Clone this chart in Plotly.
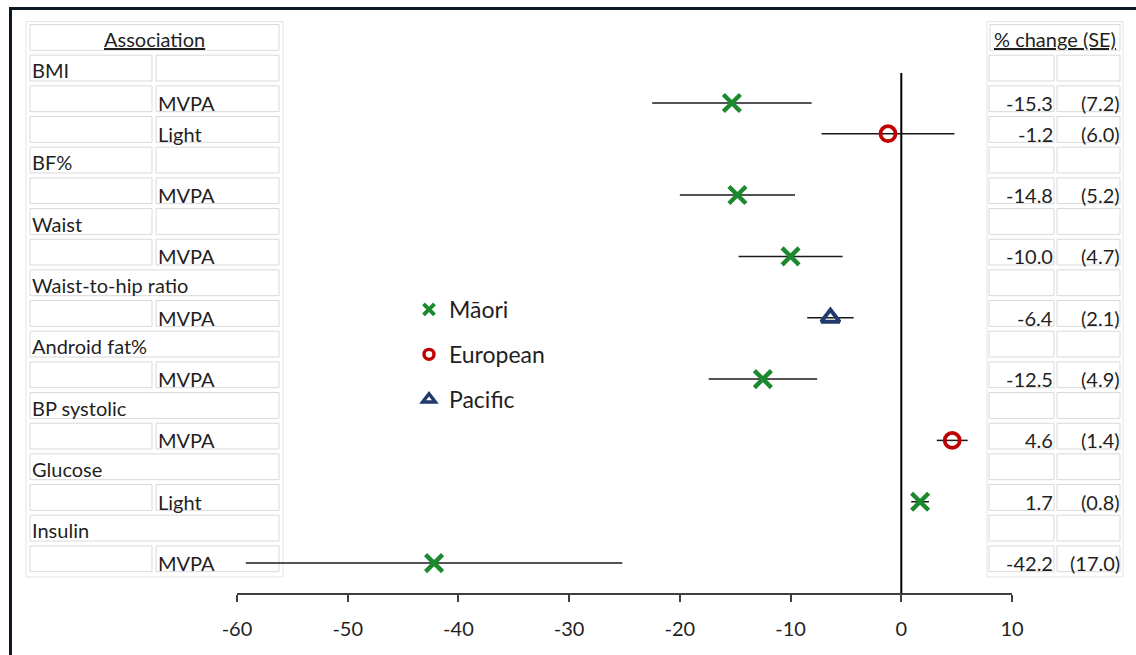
import plotly.graph_objects as go

# ---- data -------------------------------------------------------------
outcomes = ["BMI", "BF%", "Waist", "Waist-to-hip ratio", "Android fat%",
            "BP systolic", "Glucose", "Insulin"]
assoc_outcome = ["BMI", "BMI", "BF%", "Waist", "Waist-to-hip ratio",
                 "Android fat%", "BP systolic", "Glucose", "Insulin"]
assoc_activity = ["MVPA", "Light", "MVPA", "MVPA", "MVPA", "MVPA", "MVPA",
                  "Light", "MVPA"]
assoc_group = ["Māori", "European", "Māori", "Māori", "Pacific", "Māori",
               "European", "Māori", "Māori"]
pct_change = [-15.3, -1.2, -14.8, -10.0, -6.4, -12.5, 4.6, 1.7, -42.2]
std_err = [7.2, 6.0, 5.2, 4.7, 2.1, 4.9, 1.4, 0.8, 17.0]
x_ticks = [-60, -50, -40, -30, -20, -10, 0, 10]
x_tick_text = ["-60", "-50", "-40", "-30", "-20", "-10", "0", "10"]
groups = ["Māori", "European", "Pacific"]

# ---- table layout: one row per outcome heading, one per association ----
rows = []          # (kind, payload)
assoc_row = []     # row index of each association
for oc in outcomes:
    rows.append(("outcome", oc))
    for k, name in enumerate(assoc_outcome):
        if name == oc:
            assoc_row.append((k, len(rows) + 1))
            rows.append(("assoc", k))
assoc_row = [r for _, r in sorted(assoc_row)]
n_rows = len(rows) + 1  # +1 for the header row (row 0)

split_heading = {"BMI", "BF%", "Waist"}

FONT = "Lato, 'Open Sans', sans-serif"
TXT = "#1f1f1f"
CELL = "#d9d9d9"

W, H = 1136, 655
L, R, T, B = 237, 124, 0, 62
plot_w = W - L - R
plot_h = H - T - B
row_px = 30.67
top_row_px = 41.7
y_top = -top_row_px / row_px
y_bot = y_top + plot_h / row_px


def px(xp):
    return (xp - L) / plot_w


def py(yp):
    return (plot_h - yp) / plot_h


styles = {
    "Māori": dict(symbol="x-thin-open", color="#1b8a2e", size=17, lw=4.4,
                  leg_size=11, leg_lw=3.8),
    "European": dict(symbol="circle-open", color="#c00000", size=15, lw=3.8,
                     leg_size=10, leg_lw=3.4),
    "Pacific": dict(symbol="triangle-up-open", color="#1f3a6b", size=16,
                    lw=3.8, leg_size=11, leg_lw=3.4),
}

fig = go.Figure()

for g in groups:
    idx = [k for k, gg in enumerate(assoc_group) if gg == g]
    st = styles[g]
    fig.add_trace(go.Scatter(
        x=[pct_change[k] for k in idx],
        y=[assoc_row[k] for k in idx],
        mode="markers",
        marker=dict(symbol=st["symbol"], size=st["size"], color=st["color"],
                    line=dict(color=st["color"], width=st["lw"])),
        error_x=dict(type="data", array=[std_err[k] for k in idx],
                     symmetric=True, width=0, thickness=1.5,
                     color="#1a1a1a"),
        showlegend=False, name=g, cliponaxis=False,
    ))

# legend entries with smaller symbols
for g in groups:
    st = styles[g]
    fig.add_trace(go.Scatter(
        x=[None], y=[None], mode="markers", name=g, legendgroup=g,
        marker=dict(symbol=st["symbol"], size=st["leg_size"],
                    color=st["color"],
                    line=dict(color=st["color"], width=st["leg_lw"])),
    ))

shapes = []
annotations = []

# zero reference line
shapes.append(dict(type="line", xref="x", yref="y", x0=0, x1=0,
                   y0=1.02, y1=y_bot, line=dict(color="#000000", width=2),
                   layer="below"))

# outer frame of the figure
shapes.append(dict(type="line", xref="paper", yref="paper",
                   x0=px(9.5), x1=px(W + 5), y0=py(8.5), y1=py(8.5),
                   line=dict(color="#0e1726", width=3)))
shapes.append(dict(type="line", xref="paper", yref="paper",
                   x0=px(10.5), x1=px(10.5), y0=py(7), y1=py(H + 5),
                   line=dict(color="#0e1726", width=3)))


def cell(x0, x1, r):
    shapes.append(dict(type="rect", xref="paper", yref="y",
                       x0=px(x0), x1=px(x1), y0=r - 0.56, y1=r + 0.28,
                       line=dict(color=CELL, width=1), layer="below"))


def text(s, xp, r, anchor="left", size=20, dy=0):
    annotations.append(dict(text=s, xref="paper", yref="y", x=px(xp), y=r,
                            xanchor=anchor, yanchor="middle", showarrow=False,
                            yshift=dy, font=dict(family=FONT, size=size,
                                                 color=TXT)))


# table outlines
for x0, x1 in [(26, 283), (987, 1123)]:
    shapes.append(dict(type="rect", xref="paper", yref="y",
                       x0=px(x0), x1=px(x1), y0=-0.66, y1=n_rows - 1 + 0.45,
                       line=dict(color="#e4e4e4", width=1), layer="below"))

# headers
cell(30, 279, 0)
cell(990, 1120, 0)
text("<u>Association</u>", 154, 0, anchor="center", dy=3)
text("<u>% change (SE)</u>", 1055, 0, anchor="center", dy=3)

for i, (kind, payload) in enumerate(rows, start=1):
    # right table always has two cells
    cell(989, 1054, i)
    cell(1057, 1120, i)
    if kind == "outcome":
        if payload in split_heading:
            cell(30, 152, i)
            cell(156, 279, i)
        else:
            cell(30, 279, i)
        text(payload, 30, i, dy=2)
    else:
        k = payload
        cell(30, 152, i)
        cell(156, 279, i)
        text(assoc_activity[k], 156, i)
        text(f"{pct_change[k]:.1f}", 1055, i, anchor="right")
        text(f"({std_err[k]:.1f})", 1122, i, anchor="right")

fig.update_layout(
    width=W, height=H, autosize=False,
    margin=dict(l=L, r=R, t=T, b=B, pad=0),
    paper_bgcolor="white", plot_bgcolor="white",
    font=dict(family=FONT, size=20, color=TXT),
    shapes=shapes, annotations=annotations,
    showlegend=True,
    legend=dict(x=px(409), y=py(288), xanchor="left", yanchor="top",
                traceorder="grouped", tracegroupgap=12,
                bgcolor="rgba(0,0,0,0)", itemwidth=30,
                font=dict(family=FONT, size=23, color=TXT)),
    xaxis=dict(range=[x_ticks[0], x_ticks[-1]], tickvals=x_ticks,
               ticktext=x_tick_text,
               showgrid=False, zeroline=False, showline=True,
               linecolor="#404040", linewidth=1.5, ticks="outside",
               ticklen=7, tickwidth=1.5, tickcolor="#404040",
               ticklabelstandoff=10, tickfont=dict(size=20, color=TXT),
               fixedrange=True),
    yaxis=dict(range=[y_bot, y_top], visible=False, showgrid=False,
               zeroline=False, fixedrange=True),
)

fig.write_html("out.html")
